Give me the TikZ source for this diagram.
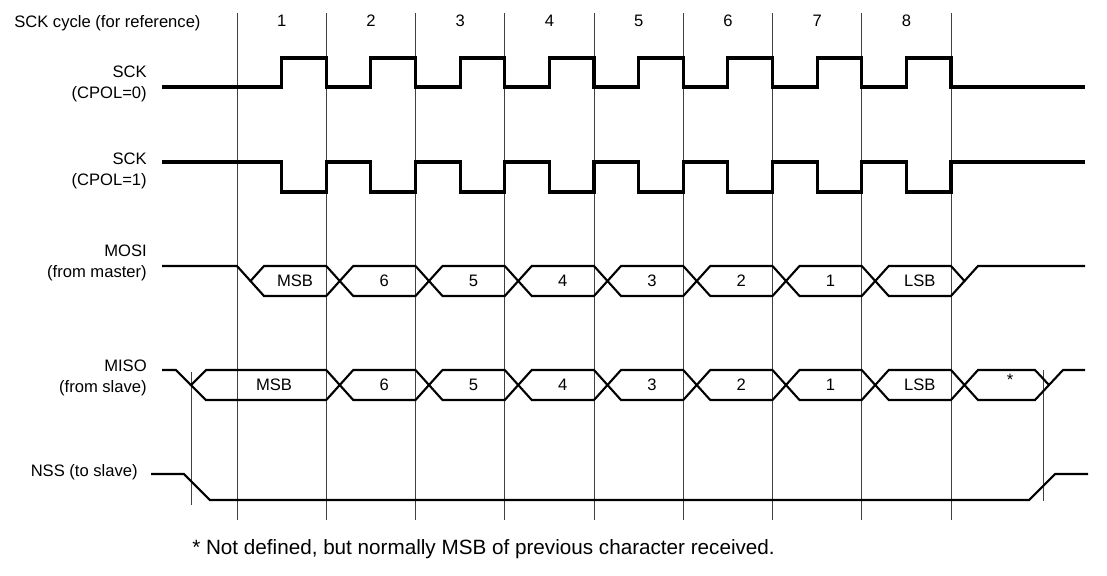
\documentclass[tikz,border=0pt]{standalone}
\usepackage{fontspec}
\setmainfont{Liberation Sans}
\begin{document}
\begin{tikzpicture}[x=0.025cm,y=-0.025cm,
  gridline/.style={black!75,line width=0.6pt},
  clk/.style={black,line width=2.2pt,line join=miter},
  bus/.style={black,line width=1.5pt,line join=miter},
  lbl/.style={font=\fontsize{11.8}{14.9}\selectfont,inner sep=0pt},
  sig/.style={lbl,anchor=east,align=right}]
\useasboundingbox (0,0) rectangle (1107,575);

% cycle grid, one line every 89.25
\foreach \k in {0,...,8}
  \draw[gridline] ({237+89.25*\k},13) -- ({237+89.25*\k},520);
\draw[gridline] (191,372) -- (191,505);
\draw[gridline] (1043,370) -- (1043,501);

\node[lbl,anchor=west] (title) at (14,23) {SCK cycle (for reference)};
\foreach \k in {1,...,8}
  \node[lbl] (cyc\k) at ({237+89.25*(\k-0.5)},21) {\k};

% signal names
\node[sig] (sckA) at (147,84) {SCK\\(CPOL=0)};
\node[sig] (sckB) at (147,171) {SCK\\(CPOL=1)};
\node[sig] (mosi) at (147,263) {MOSI\\(from master)};
\node[sig] (miso) at (147,378) {MISO\\(from slave)};
\node[sig] (nss) at (138,472) {NSS (to slave)};

% clocks
\draw[clk] (162,87) \foreach \k in {0,...,7} {
    -- ({281.625+89.25*\k},87) -- ({281.625+89.25*\k},58)
    -- ({326.25+89.25*\k},58) -- ({326.25+89.25*\k},87) } -- (1085,87);
\draw[clk] (162,162) \foreach \k in {0,...,7} {
    -- ({281.625+89.25*\k},162) -- ({281.625+89.25*\k},192)
    -- ({326.25+89.25*\k},192) -- ({326.25+89.25*\k},162) } -- (1085,162);

% MOSI
\draw[bus] (162,266) -- (237,266) -- (250.5,281);
\foreach \k/\t in {0/MSB,1/6,2/5,3/4,4/3,5/2,6/1,7/LSB} {
  \draw[bus] ({237+89.25*\k+13.5},281) -- ({237+89.25*\k+27},266)
    -- ({326.25+89.25*\k},266) -- ({326.25+89.25*\k+13.5},281)
    -- ({326.25+89.25*\k},296) -- ({237+89.25*\k+27},296) -- cycle;
  \node[lbl] (mo\k) at ({237+89.25*\k+58},281) {\t};
}
\draw[bus] (964.5,281) -- (978,266) -- (1085,266);

% MISO
\draw[bus] (162,370) -- (176,370) -- (191,385);
\draw[bus] (191,385) -- (206,370) -- (326.25,370)
  -- (339.75,385) -- (326.25,400) -- (206,400) -- cycle;
\node[lbl] (mi0) at (274,385) {MSB};
\foreach \k/\t in {1/6,2/5,3/4,4/3,5/2,6/1,7/LSB} {
  \draw[bus] ({237+89.25*\k+13.5},385) -- ({237+89.25*\k+27},370)
    -- ({326.25+89.25*\k},370) -- ({326.25+89.25*\k+13.5},385)
    -- ({326.25+89.25*\k},400) -- ({237+89.25*\k+27},400) -- cycle;
  \node[lbl] (mi\k) at ({237+89.25*\k+58},385) {\t};
}
\draw[bus] (964.5,385) -- (978,370) -- (1035,370) -- (1049,385)
  -- (1035,400) -- (978,400) -- cycle;
\node[lbl] (mi8) at (1010,380) {*};
\draw[bus] (1049,385) -- (1063,370) -- (1085,370);

% NSS
\draw[bus] (151,474) -- (184,474) -- (210,500) -- (1029,500) -- (1055,474) -- (1088,474);

\node[anchor=base west,inner sep=0pt,font=\fontsize{14.7}{17}\selectfont] (note) at (192,554)
  {* Not defined, but normally MSB of previous character received.};
\end{tikzpicture}
\end{document}
